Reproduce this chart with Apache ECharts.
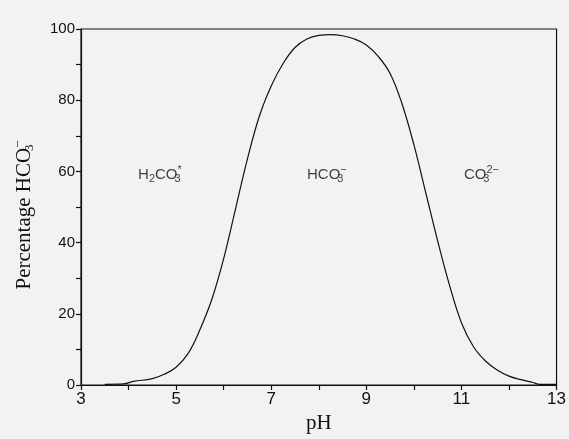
<!DOCTYPE html>
<html><head><meta charset="utf-8">
<script src="https://cdn.jsdelivr.net/npm/echarts@6/dist/echarts.min.js"></script>
<style>html,body{margin:0;padding:0;background:#f2f2f2}#c{width:569px;height:439px}</style>
</head><body><div id="c"></div>
<script>
var phValues = [3.5, 3.9, 4.1, 4.5, 4.75, 5.0, 5.25, 5.5, 5.75, 6.0, 6.25, 6.5, 6.75, 7.0, 7.25, 7.5, 7.75, 8.0, 8.25, 8.5, 8.75, 9.0, 9.25, 9.5, 9.75, 10.0, 10.25, 10.5, 10.75, 11.0, 11.25, 11.5, 11.75, 12.0, 12.25, 12.5, 12.65, 13.0];
var hco3Percent = [0.2, 0.3, 1.0, 1.8, 3.0, 5.0, 8.8, 15.5, 24.0, 35.5, 49.5, 63.5, 75.5, 84.0, 90.3, 94.8, 97.2, 98.2, 98.4, 98.1, 97.2, 95.5, 92.3, 87.5, 79.0, 67.5, 54.0, 40.5, 28.0, 17.5, 10.8, 6.8, 4.2, 2.5, 1.5, 0.7, 0.2, 0.2];
var xTickLabels = ['3', '5', '7', '9', '11', '13'];
var yTickLabels = ['0', '20', '40', '60', '80', '100'];
var speciesNames = ['H2CO3*', 'HCO3-', 'CO3 2-'];
var speciesLabels = ['H{sub|2}CO{subz|3}{sup|*}', 'HCO{subz|3}{sup|\u2212}', 'CO{subz|3}{sup|2\u2212}'];
var speciesPH = [4.66, 8.17, 11.42];
var speciesY = [59, 59, 59];

var chart = echarts.init(document.getElementById('c'));
var curve = phValues.map(function(p, i){ return [p, hco3Percent[i]]; });
var labelPts = speciesPH.map(function(p, i){ return {value:[p, speciesY[i]], name:speciesNames[i], label:{formatter:speciesLabels[i]}}; });
var sans = '"Liberation Sans", Arial, sans-serif';
var serif = '"Liberation Serif", "Times New Roman", serif';
chart.setOption({
  backgroundColor: '#f2f2f2',
  animation: false,
  grid: {left: 81, right: 12, top: 29, bottom: 54, show: true, borderColor: '#111', borderWidth: 1.2, backgroundColor: 'transparent'},
  xAxis: {
    type: 'value', min: 3, max: 13, interval: 1,
    name: 'pH', nameLocation: 'middle', nameGap: 27,
    nameTextStyle: {fontFamily: serif, fontSize: 21, color: '#111'},
    axisLine: {lineStyle: {color: '#111', width: 1.2}},
    axisTick: {length: 5, lineStyle: {color: '#111', width: 1.2}},
    splitLine: {show: false},
    axisLabel: {fontFamily: sans, fontSize: 17, color: '#111', margin: 6,
      formatter: function(v){ var s = String(Math.round(v)); return xTickLabels.indexOf(s) >= 0 ? s : ''; }}
  },
  yAxis: {
    type: 'value', min: 0, max: 100, interval: 10,
    name: 'Percentage HCO{subz|3}{sup|\u2212}', nameLocation: 'middle', nameGap: 45, nameRotate: 90,
    nameTextStyle: {fontFamily: serif, fontSize: 21, color: '#111', lineHeight: 24, padding: [0, 16, 0, 0],
      rich: {subz: {fontFamily: serif, fontSize: 13, color: '#111', lineHeight: 8, verticalAlign: 'bottom', width: 0},
             sup: {fontFamily: serif, fontSize: 13, color: '#111', lineHeight: 8, verticalAlign: 'top'}}},
    axisLine: {show: true, lineStyle: {color: '#111', width: 1.2}},
    axisTick: {show: true, length: 5, lineStyle: {color: '#111', width: 1.2}},
    splitLine: {show: false},
    axisLabel: {fontFamily: sans, fontSize: 15, color: '#111', margin: 6,
      formatter: function(v){ var s = String(Math.round(v)); return yTickLabels.indexOf(s) >= 0 ? s : ''; }}
  },
  series: [
    {type: 'line', data: curve, smooth: 0.4, symbol: 'none', lineStyle: {color: '#111', width: 1.2}},
    {type: 'scatter', data: labelPts, symbolSize: 0, silent: true,
      label: {show: true, position: 'inside', fontFamily: sans, fontSize: 15, color: '#111', lineHeight: 20,
        rich: {sub: {fontFamily: sans, fontSize: 11, color: '#111', lineHeight: 6, verticalAlign: 'bottom'},
               subz: {fontFamily: sans, fontSize: 11, color: '#111', lineHeight: 6, verticalAlign: 'bottom', width: 0},
               sup: {fontFamily: sans, fontSize: 11, color: '#111', lineHeight: 6, verticalAlign: 'top'}}}}
  ]
});
</script></body></html>
